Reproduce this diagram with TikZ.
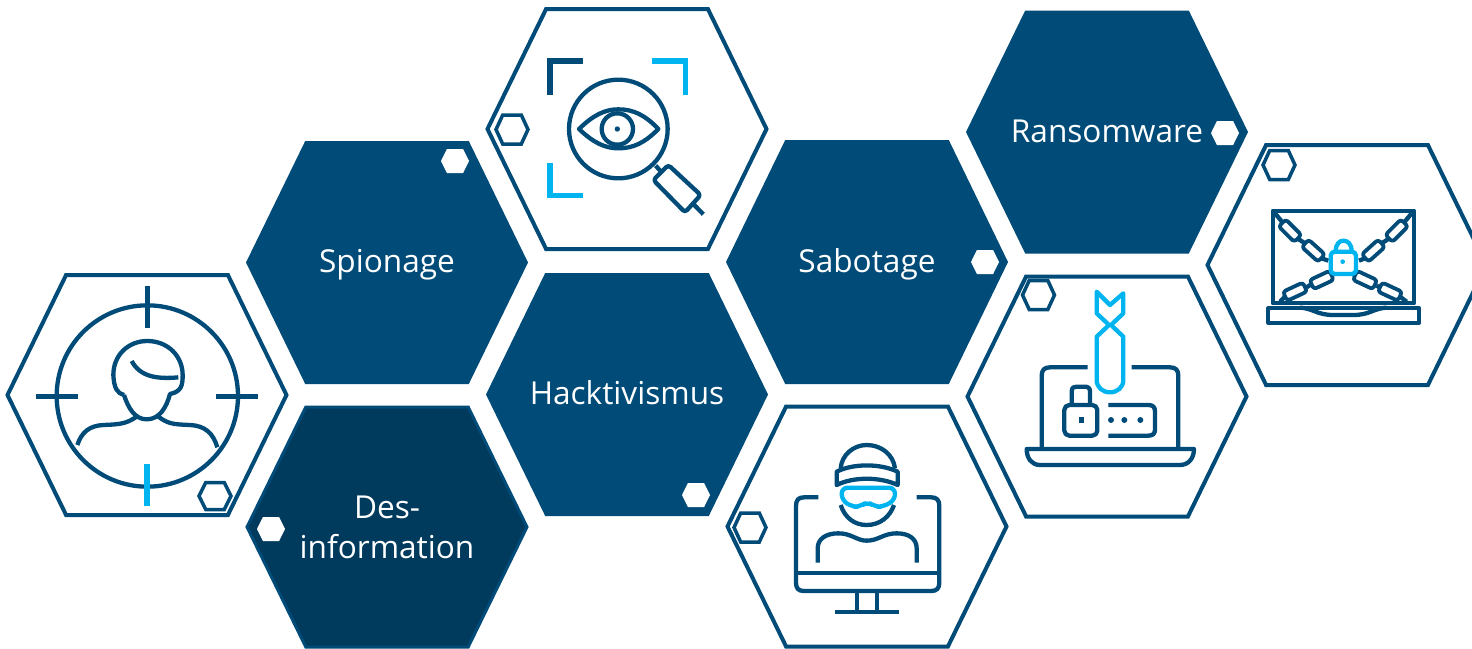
\documentclass[tikz,border=0pt]{standalone}
\usepackage{fontspec}
\setmainfont{Open Sans}
\definecolor{hexblue}{HTML}{004B78}
\definecolor{hexdark}{HTML}{003A5D}
\definecolor{skyline}{HTML}{00B4F0}
\newcommand{\hexpath}[4]{({#1-#3},#2) -- ({#1-0.58*#3},{#2-#4}) -- ({#1+0.58*#3},{#2-#4}) -- ({#1+#3},#2) -- ({#1+0.58*#3},{#2+#4}) -- ({#1-0.58*#3},{#2+#4}) -- cycle}
\newcommand{\chainlink}[3]{\draw[icon,line width=3.8pt,rotate around={-#3:(#1,#2)},rounded corners=3pt] ({#1-33},{#2-15}) rectangle ({#1+33},{#2+15});}
\tikzset{
  bighex/.style={fill=hexblue,draw=none},
  darkhex/.style={fill=hexdark,draw=hexblue,line width=3pt,line join=miter},
  openhex/.style={fill=white,draw=hexblue,line width=4pt,line join=miter},
  tinywhite/.style={fill=white,draw=none},
  tinyopen/.style={fill=white,draw=hexblue,line width=3.5pt,line join=miter},
  label/.style={text=white,font=\fontsize{31.6}{40}\selectfont,align=center,inner sep=0pt},
  icon/.style={draw=hexblue,line width=4.3pt,line cap=butt,line join=round},
  iconsky/.style={draw=skyline,line width=4.3pt,line cap=butt,line join=round},
  bar/.style={draw=hexblue,line width=5pt},
  barsky/.style={draw=skyline,line width=5.5pt},
}
\begin{document}
\begin{tikzpicture}[x=1pt,y=-1pt]
\useasboundingbox (0,0) rectangle (1472,648);
\clip (0,0) rectangle (1472,648);
% large hexagons
\path[bighex] \hexpath{387}{262.5}{141}{121.5};
\path[bighex] \hexpath{627}{394.5}{141}{121.5};
\path[bighex] \hexpath{867}{262}{141}{122};
\path[bighex] \hexpath{1107}{132}{141}{121.5};
\path[darkhex] \hexpath{387}{527}{140}{120};
\path[openhex] \hexpath{147}{395}{139.5}{120};
\path[openhex] \hexpath{627}{129}{139.5}{120};
\path[openhex] \hexpath{867}{526.5}{139.5}{120};
\path[openhex] \hexpath{1107}{396.5}{139.5}{120};
\path[openhex] \hexpath{1347}{265}{139.5}{120};
% small hexagons
\path[tinywhite] \hexpath{455}{161}{14}{12};
\path[tinywhite] \hexpath{271}{529}{14}{12};
\path[tinywhite] \hexpath{696}{495}{14}{12};
\path[tinywhite] \hexpath{985}{262}{14}{12};
\path[tinywhite] \hexpath{1225}{133}{14}{12};
\path[tinyopen] \hexpath{215}{496}{16}{13.5};
\path[tinyopen] \hexpath{512}{129.5}{16}{14.5};
\path[tinyopen] \hexpath{750}{527.5}{16}{14.5};
\path[tinyopen] \hexpath{1038.5}{295}{16}{14.5};
\path[tinyopen] \hexpath{1279}{165}{16}{14.5};
% labels
\node[label] (spionage) at (387,264.5) {Spionage};
\node[label] (sabotage) at (867,264.5) {Sabotage};
\node[label] (hack) at (627,392.5) {Hacktivismus};
\node[label] (ransom) at (1107,131.5) {Ransomware};
\node[label] (desinfo) at (387,527.5) {Des-\\information};
% icon: target person
\begin{scope}[shift={(0,260)},scale=1/3]
\draw[icon] (442,408) circle (272);
\draw[bar] (442,78) -- (442,205);
\draw[bar] (108,408) -- (235,408);
\draw[bar] (647,408) -- (773,408);
\draw[barsky,line width=6pt] (441,612) -- (441,738);
\draw[icon] (372,405) .. controls (352,400) and (342,385) .. (340,345) .. controls (340,285) and (385,243) .. (442,243) .. controls (505,243) and (548,290) .. (548,345) .. controls (548,375) and (545,395) .. (510,402) .. controls (500,440) and (480,478) .. (440,478) .. controls (405,478) and (385,445) .. (372,405);
\draw[icon] (395,303) .. controls (420,350) and (470,358) .. (535,352);
\draw[icon] (232,555) .. controls (245,515) and (270,497) .. (310,495) .. controls (365,493) and (380,490) .. (410,470);
\draw[icon] (475,470) .. controls (505,492) and (520,493) .. (570,495) .. controls (615,497) and (640,520) .. (652,562);
\end{scope}
% icon: eye and magnifier
\begin{scope}[shift={(480,0)},scale=1/3]
\draw[bar,line width=5.5pt] (210,285) -- (210,183) -- (310,183);
\draw[barsky] (517,183) -- (617,183) -- (617,285);
\draw[barsky] (210,490) -- (210,587) -- (310,587);
\draw[icon] (415,387) circle (148);
\draw[icon] (297,387) .. controls (340,345) and (375,328) .. (415,328) .. controls (460,328) and (495,345) .. (535,387) .. controls (495,428) and (460,445) .. (415,445) .. controls (375,445) and (340,428) .. (297,387) -- cycle;
\draw[icon] (412,387) circle (47);
\fill[hexblue] (412,387) circle (8);
\draw[icon] (527,497) -- (545,517);
\draw[icon,rounded corners=3pt] (565,495) -- (662,585) -- (615,637) -- (520,540) -- cycle;
\draw[icon] (640,612) -- (670,643);
\end{scope}
% icon: hacker at screen
\begin{scope}[shift={(720,400)},scale=1/3]
\draw[icon] (295,292) -- (252,292) .. controls (235,292) and (228,300) .. (228,318) -- (228,548) .. controls (228,565) and (235,573) .. (252,573) -- (634,573) .. controls (650,573) and (658,565) .. (658,548) -- (658,318) .. controls (658,300) and (650,292) .. (634,292) -- (590,292);
\draw[icon] (228,520) -- (658,520);
\draw[icon] (410,575) -- (410,635);
\draw[icon] (472,575) -- (472,635);
\draw[icon] (345,635) -- (538,635);
\draw[icon] (362,205) .. controls (365,165) and (400,135) .. (440,135) .. controls (485,135) and (520,165) .. (525,205);
\draw[icon] (350,215) .. controls (400,190) and (480,190) .. (533,215) -- (533,255) .. controls (480,230) and (400,230) .. (350,255) -- cycle;
\draw[icon] (362,315) .. controls (375,355) and (405,375) .. (440,375) .. controls (480,375) and (510,350) .. (522,315);
\draw[iconsky,rounded corners=6pt] (365,263) -- (525,263) -- (525,300) -- (490,320) -- (465,320) -- (442,305) -- (420,320) -- (395,320) -- (365,300) -- cycle;
\draw[icon] (293,488) -- (293,445) .. controls (293,415) and (320,400) .. (355,400) .. controls (395,400) and (410,422) .. (440,422) .. controls (475,422) and (490,400) .. (530,400) .. controls (565,400) and (590,415) .. (590,445) -- (590,488);
\end{scope}
% icon: bomb and locked laptop
\begin{scope}[shift={(960,270)},scale=1/3]
\draw[icon] (383,292) -- (270,292) .. controls (253,292) and (245,300) .. (245,318) -- (245,537);
\draw[icon] (515,292) -- (630,292) .. controls (647,292) and (655,300) .. (655,318) -- (655,537);
\draw[icon] (200,537) -- (702,537) .. controls (702,565) and (685,585) .. (660,585) -- (240,585) .. controls (215,585) and (200,565) .. (200,537) -- cycle;
\draw[icon,rounded corners=5pt] (313,405) rectangle (412,497);
\draw[icon] (335,405) -- (335,365) .. controls (335,352) and (342,350) .. (350,350) -- (375,350) .. controls (385,350) and (390,355) .. (390,365) -- (390,405);
\draw[icon,line width=5pt] (363,441) -- (363,460);
\draw[icon] (445,405) -- (565,405) .. controls (580,405) and (585,412) .. (585,425) -- (585,478) .. controls (585,490) and (580,497) .. (565,497) -- (445,497);
\fill[hexblue] (453,450) circle (9) (493,450) circle (9) (541,450) circle (9);
\draw[iconsky] (410,65) -- (450,105) -- (490,70) -- (490,130) -- (453,165) -- (490,200) -- (490,330) .. controls (490,352) and (472,367) .. (450,367) .. controls (428,367) and (410,352) .. (410,330) -- (410,200) -- (447,165) -- (410,130) -- cycle;
\end{scope}
% icon: chained laptop
\begin{scope}[shift={(1200,140)},scale=1/3]
\draw[icon] (218,212) rectangle (642,490);
\draw[icon] (205,505) rectangle (657,548);
\draw[icon] (300,503) .. controls (340,505) and (350,525) .. (400,525) -- (460,525) .. controls (510,525) and (520,505) .. (560,503);
\chainlink{270}{272}{45}
\chainlink{340}{332}{42}
\chainlink{590}{272}{-45}
\chainlink{520}{332}{-42}
\chainlink{285}{455}{-25}
\chainlink{365}{420}{-25}
\chainlink{495}{420}{25}
\chainlink{570}{455}{25}
\draw[icon] (225,220) -- (250,250);
\draw[icon] (295,297) -- (315,310);
\draw[icon] (365,355) -- (385,362);
\draw[icon] (635,220) -- (610,250);
\draw[icon] (565,297) -- (545,310);
\draw[icon] (495,355) -- (477,362);
\draw[icon] (240,485) -- (255,470);
\draw[icon] (620,485) -- (600,470);
\draw[icon] (320,442) -- (335,432);
\draw[icon] (530,437) -- (540,443);
\draw[iconsky,rounded corners=4pt] (392,335) rectangle (468,402);
\draw[iconsky] (407,335) .. controls (407,310) and (420,302) .. (430,302) .. controls (442,302) and (455,310) .. (455,335);
\fill[skyline] (428,365) circle (7);
\end{scope}
\end{tikzpicture}
\end{document}
